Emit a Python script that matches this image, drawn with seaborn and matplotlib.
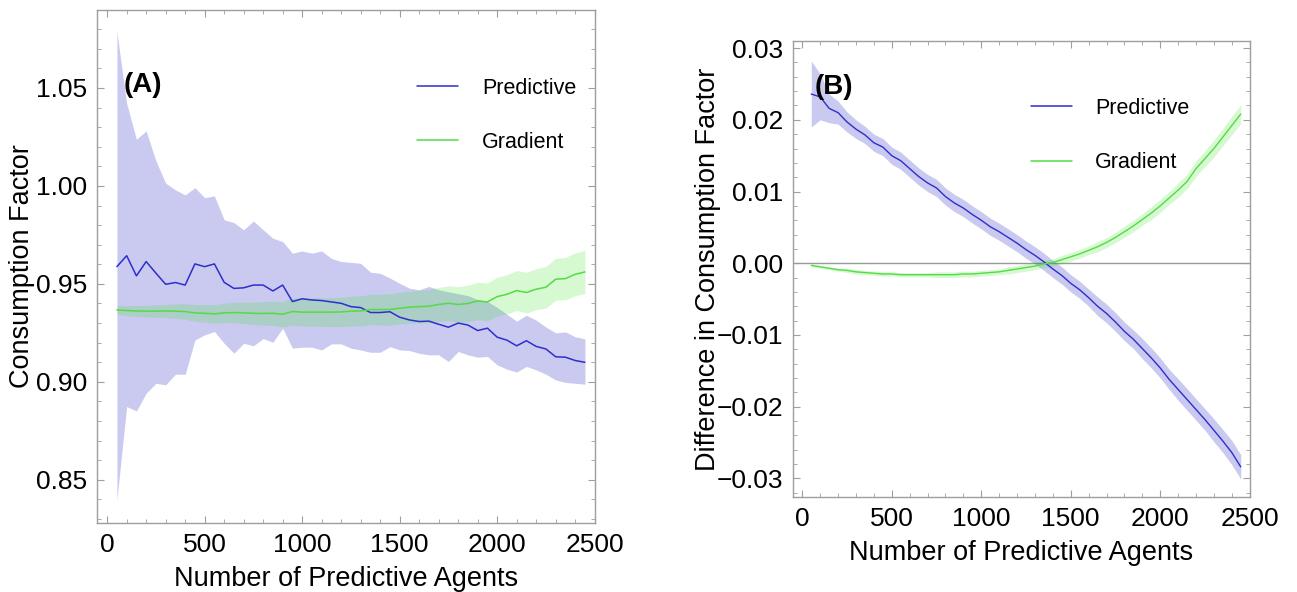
import matplotlib
matplotlib.use("Agg")
import matplotlib.pyplot as plt
import seaborn as sns
import pandas as pd
from matplotlib.ticker import MultipleLocator, FuncFormatter
from matplotlib.lines import Line2D

# ---------------- data ----------------
agents = list(range(50, 2451, 50))

pred_a = [0.9588, 0.9644, 0.9541, 0.9614, 0.9555, 0.9498, 0.9507, 0.9494, 0.9602, 0.9588,
          0.9602, 0.9508, 0.9477, 0.9480, 0.9494, 0.9494, 0.9464, 0.9494, 0.9410, 0.9424,
          0.9418, 0.9415, 0.9408, 0.9401, 0.9384, 0.9379, 0.9354, 0.9354, 0.9358, 0.9330,
          0.9316, 0.9308, 0.9310, 0.9294, 0.9279, 0.9300, 0.9290, 0.9262, 0.9274, 0.9228,
          0.9213, 0.9184, 0.9210, 0.9181, 0.9168, 0.9128, 0.9126, 0.9109, 0.9100]
pred_a_hi = [1.0787, 1.0422, 1.0238, 1.0281, 1.0128, 1.0014, 0.9980, 0.9954, 0.9991, 0.9940,
             0.9949, 0.9827, 0.9813, 0.9776, 0.9821, 0.9776, 0.9733, 0.9716, 0.9657, 0.9668,
             0.9657, 0.9668, 0.9630, 0.9614, 0.9610, 0.9605, 0.9560, 0.9554, 0.9530, 0.9503,
             0.9478, 0.9470, 0.9487, 0.9470, 0.9460, 0.9450, 0.9440, 0.9420, 0.9410, 0.9380,
             0.9345, 0.9310, 0.9340, 0.9315, 0.9280, 0.9250, 0.9255, 0.9230, 0.9220]
pred_a_lo = [0.8398, 0.8874, 0.8852, 0.8942, 0.8993, 0.8985, 0.9039, 0.9039, 0.9214, 0.9240,
             0.9257, 0.9197, 0.9146, 0.9197, 0.9184, 0.9221, 0.9202, 0.9274, 0.9172, 0.9177,
             0.9177, 0.9163, 0.9194, 0.9194, 0.9172, 0.9163, 0.9151, 0.9151, 0.9180, 0.9163,
             0.9160, 0.9146, 0.9138, 0.9138, 0.9104, 0.9155, 0.9138, 0.9126, 0.9130, 0.9087,
             0.9065, 0.9050, 0.9079, 0.9061, 0.9039, 0.9010, 0.8997, 0.8993, 0.8988]
grad_a = [0.9367, 0.9364, 0.9362, 0.9361, 0.9361, 0.9362, 0.9361, 0.9359, 0.9352, 0.9350,
          0.9347, 0.9352, 0.9354, 0.9352, 0.9350, 0.9349, 0.9350, 0.9345, 0.9359, 0.9356,
          0.9356, 0.9356, 0.9356, 0.9357, 0.9361, 0.9362, 0.9369, 0.9369, 0.9369, 0.9376,
          0.9381, 0.9384, 0.9386, 0.9395, 0.9401, 0.9395, 0.9400, 0.9413, 0.9408, 0.9435,
          0.9447, 0.9466, 0.9456, 0.9473, 0.9483, 0.9524, 0.9527, 0.9549, 0.9561]
grad_a_hw = [0.0023, 0.0025, 0.0028, 0.0030, 0.0032, 0.0034, 0.0037, 0.0040, 0.0043, 0.0045,
             0.0047, 0.0050, 0.0052, 0.0055, 0.0057, 0.0060, 0.0062, 0.0065, 0.0070, 0.0071,
             0.0072, 0.0073, 0.0074, 0.0075, 0.0076, 0.0077, 0.0078, 0.0079, 0.0080, 0.0081,
             0.0082, 0.0083, 0.0085, 0.0087, 0.0089, 0.0091, 0.0093, 0.0095, 0.0097, 0.0099,
             0.0100, 0.0102, 0.0104, 0.0105, 0.0106, 0.0107, 0.0108, 0.0109, 0.0110]

pred_b = [0.0236, 0.0232, 0.0216, 0.0210, 0.0197, 0.0187, 0.0179, 0.0168, 0.0162, 0.0150,
          0.0143, 0.0132, 0.0121, 0.0112, 0.0105, 0.0093, 0.0084, 0.0077, 0.0068, 0.0060,
          0.0051, 0.0044, 0.0036, 0.0028, 0.0019, 0.0011, 0.0002, -0.0008, -0.0017, -0.0028,
          -0.0037, -0.0048, -0.0060, -0.0070, -0.0082, -0.0095, -0.0106, -0.0119, -0.0132, -0.0146,
          -0.0162, -0.0176, -0.0190, -0.0204, -0.0218, -0.0233, -0.0248, -0.0264, -0.0284]
pred_b_hw = [0.0046, 0.0032, 0.0020, 0.0016, 0.0014, 0.0013, 0.0012, 0.0012, 0.0012, 0.0012,
             0.0012, 0.0012, 0.0012, 0.0012, 0.0012, 0.0012, 0.0012, 0.0012, 0.0012, 0.0012,
             0.0012, 0.0012, 0.0012, 0.0012, 0.0012, 0.0012, 0.0012, 0.0012, 0.0012, 0.0012,
             0.0012, 0.0012, 0.0013, 0.0013, 0.0013, 0.0013, 0.0013, 0.0014, 0.0014, 0.0014,
             0.0014, 0.0015, 0.0015, 0.0015, 0.0015, 0.0016, 0.0016, 0.0017, 0.0017]
grad_b = [-0.0003, -0.0005, -0.0007, -0.0009, -0.0010, -0.0012, -0.0013, -0.0014, -0.0015, -0.0015,
          -0.0016, -0.0016, -0.0016, -0.0016, -0.0016, -0.0016, -0.0016, -0.0015, -0.0015, -0.0014,
          -0.0013, -0.0012, -0.0010, -0.0008, -0.0006, -0.0004, -0.0001, 0.0001, 0.0005, 0.0009,
          0.0013, 0.0018, 0.0023, 0.0029, 0.0036, 0.0044, 0.0052, 0.0061, 0.0070, 0.0080,
          0.0091, 0.0102, 0.0114, 0.0132, 0.0146, 0.0160, 0.0176, 0.0192, 0.0208]
grad_b_hw = [0.0002, 0.0002, 0.0002, 0.0002, 0.0003, 0.0003, 0.0003, 0.0003, 0.0003, 0.0003,
             0.0003, 0.0003, 0.0003, 0.0003, 0.0004, 0.0004, 0.0004, 0.0004, 0.0004, 0.0004,
             0.0004, 0.0004, 0.0005, 0.0005, 0.0005, 0.0005, 0.0005, 0.0005, 0.0006, 0.0006,
             0.0006, 0.0006, 0.0007, 0.0007, 0.0007, 0.0008, 0.0008, 0.0008, 0.0009, 0.0009,
             0.0009, 0.0010, 0.0010, 0.0011, 0.0011, 0.0012, 0.0012, 0.0013, 0.0013]

series_names = ["Predictive", "Gradient"]
panel_labels = ["(A)", "(B)"]

# ---------------- style ----------------
sns.set_theme(style="ticks")
plt.rcParams["font.family"] = ["Liberation Sans", "DejaVu Sans"]
plt.rcParams["text.color"] = "black"
plt.rcParams["axes.labelcolor"] = "black"
plt.rcParams["xtick.labelcolor"] = "black"
plt.rcParams["ytick.labelcolor"] = "black"

BLUE = (0.18, 0.18, 0.80)
BLUE_FILL = (0.2, 0.2, 0.8)
GREEN = (0.33, 0.86, 0.27)
GREEN_FILL = (0.16, 0.89, 0.05)
FRAME = (0.62, 0.62, 0.62)

fig = plt.figure(figsize=(12.97, 5.92), dpi=100)
axA = fig.add_axes([0.0748, 0.1166, 0.384, 0.8666])
axB = fig.add_axes([0.6114, 0.1605, 0.3524, 0.7703])

dfA = pd.DataFrame({"x": agents + agents,
                    "y": pred_a + grad_a,
                    "series": ["Predictive"] * len(agents) + ["Gradient"] * len(agents)})
dfB = pd.DataFrame({"x": agents + agents,
                    "y": pred_b + grad_b,
                    "series": ["Predictive"] * len(agents) + ["Gradient"] * len(agents)})
palette = {"Predictive": BLUE, "Gradient": GREEN}

# Panel A
axA.fill_between(agents, pred_a_lo, pred_a_hi, color=BLUE_FILL, alpha=0.26, lw=0)
axA.fill_between(agents, [g - h for g, h in zip(grad_a, grad_a_hw)],
                 [g + h for g, h in zip(grad_a, grad_a_hw)], color=GREEN_FILL, alpha=0.19, lw=0)
sns.lineplot(data=dfA, x="x", y="y", hue="series", palette=palette, estimator=None,
             linewidth=1.1, legend=False, ax=axA)

# Panel B
axB.axhline(0, color=(0.6, 0.6, 0.6), lw=1.0, zorder=1)
axB.fill_between(agents, [p - h for p, h in zip(pred_b, pred_b_hw)],
                 [p + h for p, h in zip(pred_b, pred_b_hw)], color=BLUE_FILL, alpha=0.26, lw=0)
axB.fill_between(agents, [g - h for g, h in zip(grad_b, grad_b_hw)],
                 [g + h for g, h in zip(grad_b, grad_b_hw)], color=GREEN_FILL, alpha=0.19, lw=0)
sns.lineplot(data=dfB, x="x", y="y", hue="series", palette=palette, estimator=None,
             linewidth=1.0, legend=False, ax=axB)


def fmt_minus(v, pos):
    s = f"{v:.2f}"
    if s == "-0.00":
        s = "0.00"
    return s.replace("-", "\u2212")


for ax in (axA, axB):
    ax.set_xlim(-52, 2502)
    ax.xaxis.set_major_locator(MultipleLocator(500))
    ax.xaxis.set_minor_locator(MultipleLocator(100))
    ax.tick_params(which="both", direction="in", top=True, right=True,
                   color=FRAME, labelsize=19, labelcolor="black", pad=7)
    ax.tick_params(which="major", length=5, width=0.8)
    ax.tick_params(which="minor", length=2.8, width=0.6)
    for sp in ax.spines.values():
        sp.set_color(FRAME)
        sp.set_linewidth(1.0)
    ax.set_xlabel("Number of Predictive Agents", fontsize=19.5, labelpad=7, color="black")
    ax.grid(False)

axA.set_ylim(0.828, 1.0898)
axA.yaxis.set_major_locator(MultipleLocator(0.05))
axA.yaxis.set_minor_locator(MultipleLocator(0.01))
axA.yaxis.set_major_formatter(FuncFormatter(lambda v, p: f"{v:.2f}"))
axA.set_ylabel("Consumption Factor", fontsize=19.5, labelpad=1, color="black")

axB.set_ylim(-0.0326, 0.0310)
axB.yaxis.set_major_locator(MultipleLocator(0.01))
axB.yaxis.set_minor_locator(MultipleLocator(0.002))
axB.yaxis.set_major_formatter(FuncFormatter(fmt_minus))
axB.set_ylabel("Difference in Consumption Factor", fontsize=19.5, labelpad=-3, color="black")

for ax, lab, lx, ly in ((axA, panel_labels[0], 0.053, 0.853), (axB, panel_labels[1], 0.048, 0.90)):
    ax.text(lx, ly, lab, transform=ax.transAxes, fontsize=20, fontweight="bold",
            ha="left", va="center", color="black")

for ax, bx, by in ((axA, 0.643, 0.868), (axB, 0.520, 0.875)):
    ax.legend([Line2D([], [], color=BLUE, lw=1.1), Line2D([], [], color=GREEN, lw=1.1)],
              series_names, loc="upper left", bbox_to_anchor=(bx, by), frameon=False,
              fontsize=15.5, handlelength=1.9, handletextpad=1.1, labelspacing=1.55,
              borderpad=0, borderaxespad=0, labelcolor="black")

fig.savefig("out.png", dpi=100)
